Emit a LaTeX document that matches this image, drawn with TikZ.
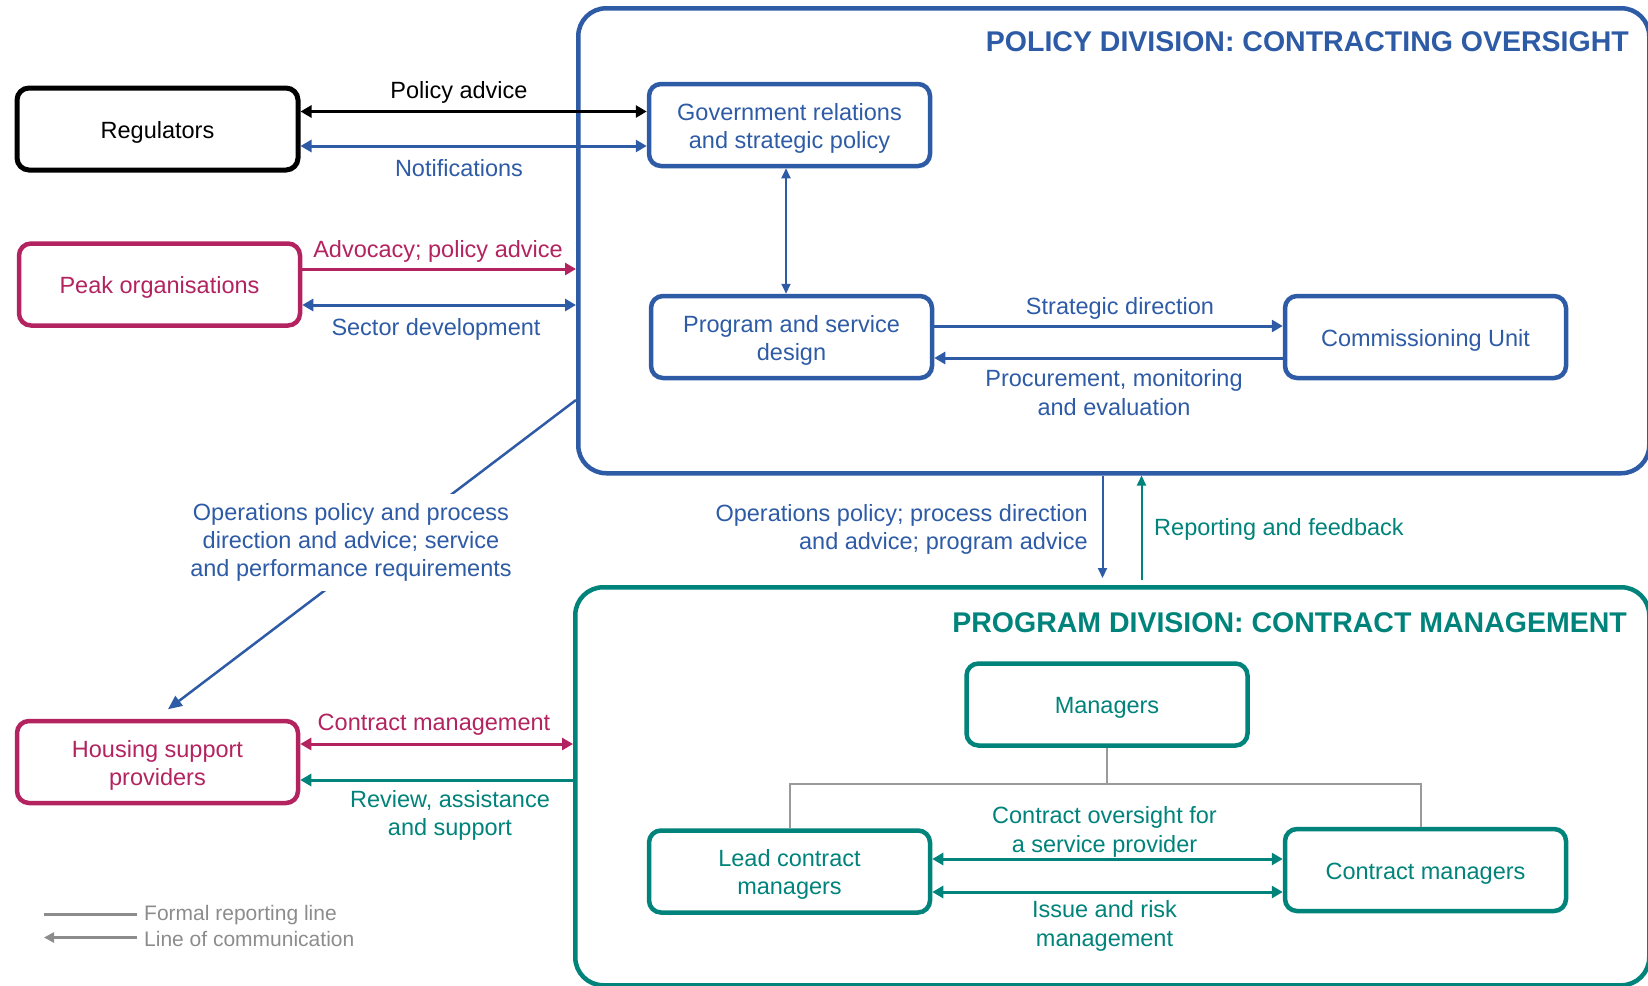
\documentclass[tikz,border=0pt]{standalone}
\usepackage{fontspec}
\setmainfont{Liberation Sans}
\usetikzlibrary{arrows.meta,calc}
\definecolor{cblue}{HTML}{2E5BA6}
\definecolor{cmag}{HTML}{B3235F}
\definecolor{cteal}{HTML}{00837A}
\definecolor{cgray}{HTML}{8C8C8C}
\definecolor{ctree}{HTML}{9A9A9A}
\newcommand{\boxtxt}[1]{\begin{tabular}{@{}c@{}}\rule{0pt}{27pt}#1\end{tabular}}
\tikzset{
  every node/.style={font=\fontsize{23.5}{28.3}\selectfont, inner sep=0pt},
  box/.style={draw, rounded corners=12pt, line width=4.5pt, minimum width=281pt, minimum height=82pt, align=center},
  bigbox/.style={draw, rounded corners=28pt, line width=4.5pt, anchor=north west},
  ttl/.style={font=\fontsize{28.5}{32}\selectfont\bfseries, anchor=east},
  lbl/.style={align=center, yshift=-2.5pt},
  arr/.style={line width=3pt, -{Triangle[length=11pt,width=12pt]}},
  darr/.style={line width=3pt, {Triangle[length=11pt,width=12pt]}-{Triangle[length=11pt,width=12pt]}},
  tarr/.style={line width=2pt, -{Triangle[length=10pt,width=9pt]}},
  tdarr/.style={line width=2pt, {Triangle[length=10pt,width=9pt]}-{Triangle[length=10pt,width=9pt]}},
  tree/.style={draw=ctree, line width=2pt},
  legtext/.style={anchor=west, text=cgray, font=\fontsize{21}{24}\selectfont}
}
\begin{document}
\begin{tikzpicture}[x=1pt,y=-1pt]
\useasboundingbox (0,0) rectangle (1648,985);
% big division boxes
\node[bigbox, draw=cblue, minimum width=1071pt, minimum height=465pt] (policy) at (576,6) {};
\node[bigbox, draw=cteal, minimum width=1074pt, minimum height=398pt] (program) at (573,585) {};
\node[ttl, text=cblue] (ptitle) at (1629,42) {POLICY DIVISION: CONTRACTING OVERSIGHT};
\node[ttl, text=cteal] (gtitle) at (1627,623) {PROGRAM DIVISION: CONTRACT MANAGEMENT};
% outer boxes
\node[box, draw=black, line width=5pt] (reg) at (157.5,129) {\boxtxt{Regulators}};
\node[box, draw=cmag, text=cmag] (peak) at (159.5,284.5) {\boxtxt{Peak organisations}};
\node[box, draw=cmag, text=cmag] (hsp) at (157.5,762) {\boxtxt{Housing support\\providers}};
% policy division boxes
\node[box, draw=cblue, text=cblue] (gov) at (789.5,125) {\boxtxt{Government relations\\and strategic policy}};
\node[box, draw=cblue, text=cblue] (psd) at (791.5,337) {\boxtxt{Program and service\\design}};
\node[box, draw=cblue, text=cblue] (cu) at (1425.5,337) {\boxtxt{Commissioning Unit}};
% program division boxes
\node[box, draw=cteal, text=cteal] (mgr) at (1107,704.5) {\boxtxt{Managers}};
\node[box, draw=cteal, text=cteal] (lcm) at (789.5,871.5) {\boxtxt{Lead contract\\managers}};
\node[box, draw=cteal, text=cteal] (cm) at (1425.5,870) {\boxtxt{Contract managers}};

% regulators links
\draw[darr] ($(reg.east)+(0,-17.5)$) coordinate (r1) -- (r1 -| gov.west);
\draw[darr, cblue] ($(reg.east)+(0,17)$) coordinate (r2) -- (r2 -| gov.west);
\node[lbl] (lpa) at (459,90) {Policy advice};
\node[lbl, text=cblue] (lno) at (459,166) {Notifications};
% peak links
\draw[arr, cmag] ($(peak.east)+(0,-15.5)$) coordinate (p1) -- (p1 -| policy.west);
\draw[darr, cblue] ($(peak.east)+(0,20.5)$) coordinate (p2) -- (p2 -| policy.west);
\node[lbl, text=cmag] (lad) at (438,249) {Advocacy; policy advice};
\node[lbl, text=cblue] (lsd) at (436,327) {Sector development};
% inside policy division
\draw[tdarr, cblue] ([xshift=-3.5pt]gov.south) coordinate (g1) -- (g1 |- psd.north);
\draw[arr, cblue] ($(psd.east)+(0,-11)$) coordinate (s1) -- (s1 -| cu.west);
\draw[arr, cblue] ($(cu.west)+(0,21)$) coordinate (s2) -- (s2 -| psd.east);
\node[lbl, text=cblue] (lst) at (1120,306) {Strategic direction};
\node[lbl, text=cblue] (lpr) at (1114,390) {Procurement, monitoring\\and evaluation};
% diagonal
\coordinate (dstart) at (576,400);
\draw[line width=2.5pt, cblue, -{Triangle[length=14pt,width=12pt]}] (dstart) -- ($(hsp.north)+(10.5,-9.5)$);
\node[lbl, text=cblue, fill=white, inner sep=9pt] (ldiag) at (351,540) {Operations policy and process\\direction and advice; service\\and performance requirements};
% between divisions
\coordinate (vx1) at (1102.5,0);
\coordinate (vx2) at (1141.5,0);
\draw[tarr, cblue, shorten >=7pt] (vx1 |- policy.south) -- (vx1 |- program.north);
\draw[tarr, cteal, shorten <=5pt] (vx2 |- program.north) -- (vx2 |- policy.south);
\node[lbl, text=cblue, align=right, anchor=east] (lops) at (1088,527) {Operations policy; process direction\\and advice; program advice};
\node[lbl, text=cteal, anchor=west] (lrep) at (1154,527) {Reporting and feedback};
% housing links
\draw[darr, cmag] ($(hsp.east)+(0,-18)$) coordinate (h1) -- (h1 -| program.west);
\draw[arr, cteal] ($(hsp.east)+(0,18)$) coordinate (h2) (h2 -| program.west) -- (h2);
\node[lbl, text=cmag] (lcmg) at (434,722) {Contract management};
\node[lbl, text=cteal] (lrev) at (450,813) {Review, assistance\\and support};
% org tree
\draw[tree] (mgr.south) -- ++(0,36) coordinate (tj) -| (lcm.north);
\draw[tree] (tj) -| ([xshift=-5pt]cm.north);
% lead <-> contract managers
\draw[darr, cteal] ($(lcm.east)+(0,-12.5)$) coordinate (c1) -- (c1 -| cm.west);
\draw[darr, cteal] ($(lcm.east)+(0,20.5)$) coordinate (c2) -- (c2 -| cm.west);
\node[lbl, text=cteal] (lco) at (1104.5,829.5) {Contract oversight for\\a service provider};
\node[lbl, text=cteal] (lir) at (1104.5,923.5) {Issue and risk\\management};
% legend
\coordinate (lg1a) at (44,914);
\coordinate (lg1b) at (137,914);
\coordinate (lg2a) at (44,937.5);
\coordinate (lg2b) at (137,937.5);
\draw[draw=cgray, line width=3pt] (lg1a) -- (lg1b);
\draw[draw=cgray, line width=3pt, -{Triangle[length=10pt,width=10pt]}] (lg2b) -- (lg2a);
\node[legtext] (lf1) at (144,915.5) {Formal reporting line};
\node[legtext] (lf2) at (144,938.5) {Line of communication};
\end{tikzpicture}
\end{document}
